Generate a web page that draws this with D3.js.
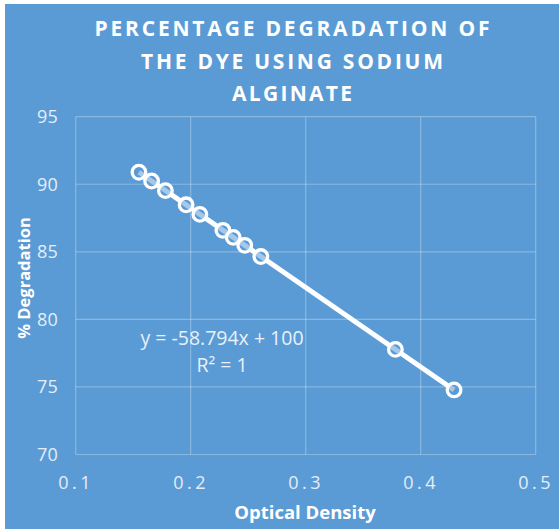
<!DOCTYPE html>
<html>
<head>
<meta charset="utf-8">
<script src="https://cdn.jsdelivr.net/npm/d3@7"></script>
<style>
  html, body { margin: 0; padding: 0; background: #ffffff; }
  svg { display: block; }
</style>
</head>
<body>
<svg id="chart" width="559" height="529"></svg>
<script>
// ---- data ----
const titleLines = ["PERCENTAGE DEGRADATION OF", "THE DYE USING SODIUM", "ALGINATE"];
const opticalDensity = [0.155, 0.166, 0.178, 0.196, 0.208, 0.228, 0.237, 0.247, 0.261, 0.378, 0.429];
const degradation = [90.89, 90.24, 89.53, 88.48, 87.77, 86.59, 86.07, 85.48, 84.65, 77.78, 74.78];
const xTicks = [0.1, 0.2, 0.3, 0.4, 0.5];
const yTicks = [70, 75, 80, 85, 90, 95];
const trendSlope = -58.794;
const trendIntercept = 100;
const equationLines = ["y = -58.794x + 100", "R² = 1"];
const xTitle = "Optical Density";
const yTitle = "% Degradation";

// ---- layout ----
const W = 559, H = 529;
const bg = "#5B9BD5";
const plot = { left: 75.7, right: 535.7, top: 116.7, bottom: 454.5 };

const svg = d3.select("#chart");
svg.append("rect").attr("x", 5).attr("y", 4).attr("width", W - 5).attr("height", H - 4).attr("fill", bg);

const x = d3.scaleLinear().domain([0.1, 0.5]).range([plot.left, plot.right]);
const y = d3.scaleLinear().domain([70, 95]).range([plot.bottom, plot.top]);

// gridlines
const grid = svg.append("g").attr("stroke", "rgba(255,255,255,0.28)").attr("stroke-width", 1.2);
grid.selectAll("line.v").data(xTicks).join("line")
  .attr("x1", d => x(d)).attr("x2", d => x(d))
  .attr("y1", plot.top).attr("y2", plot.bottom);
grid.selectAll("line.h").data(yTicks).join("line")
  .attr("y1", d => y(d)).attr("y2", d => y(d))
  .attr("x1", plot.left).attr("x2", plot.right);

// axes via d3 axis generators (styled as text only)
const labelColor = "#e4edf8";
const xAxis = svg.append("g").attr("transform", `translate(0,${plot.bottom})`)
  .call(d3.axisBottom(x).tickValues(xTicks).tickFormat(d3.format(".1f")).tickSize(0).tickPadding(22));
xAxis.select(".domain").remove();
xAxis.selectAll("text").attr("fill", labelColor).style("font-family", "'Open Sans', sans-serif")
  .style("font-size", "18px").style("letter-spacing", "3.5px");

const yAxis = svg.append("g").attr("transform", `translate(${plot.left},0)`)
  .call(d3.axisLeft(y).tickValues(yTicks).tickSize(0).tickPadding(18));
yAxis.select(".domain").remove();
yAxis.selectAll("text").attr("fill", labelColor).style("font-family", "'Open Sans', sans-serif")
  .style("font-size", "18px");

// trendline
const xMin = d3.min(opticalDensity), xMax = d3.max(opticalDensity);
svg.append("line")
  .attr("x1", x(xMin)).attr("y1", y(trendIntercept + trendSlope * xMin))
  .attr("x2", x(xMax)).attr("y2", y(trendIntercept + trendSlope * xMax))
  .attr("stroke", "#ffffff").attr("stroke-width", 5);

// markers
const pts = opticalDensity.map((d, i) => ({ x: d, y: degradation[i] }));
svg.append("g").selectAll("circle").data(pts).join("circle")
  .attr("cx", d => x(d.x)).attr("cy", d => y(d.y)).attr("r", 6.8)
  .attr("fill", bg).attr("fill-opacity", 0.55)
  .attr("stroke", "#ffffff").attr("stroke-width", 3.3);

// title
const title = svg.append("g");
const titleWidths = [395, 302, 120];
titleLines.forEach((t, i) => {
  title.append("text")
    .attr("x", 292).attr("y", 36 + i * 32.5)
    .attr("text-anchor", "middle")
    .attr("fill", "#ffffff")
    .style("font-family", "'Open Sans', sans-serif")
    .style("font-weight", "bold").style("font-size", "21px")
    .attr("textLength", titleWidths[i]).attr("lengthAdjust", "spacing")
    .text(t);
});

// equation
equationLines.forEach((t, i) => {
  svg.append("text")
    .attr("x", 222).attr("y", 345 + i * 27)
    .attr("text-anchor", "middle")
    .attr("fill", "#e8f0f9")
    .style("font-family", "'Open Sans', sans-serif")
    .style("font-size", "19.5px")
    .text(t);
});

// axis titles
svg.append("text")
  .attr("x", 305).attr("y", 519)
  .attr("text-anchor", "middle").attr("fill", "#ffffff")
  .style("font-family", "'Open Sans', sans-serif").style("font-weight", "bold").style("font-size", "18.5px")
  .text(xTitle);

svg.append("text")
  .attr("transform", `translate(30,278) rotate(-90)`)
  .attr("text-anchor", "middle").attr("fill", "#ffffff")
  .style("font-family", "'Open Sans', sans-serif").style("font-weight", "bold").style("font-size", "16.5px")
  .text(yTitle);
</script>
</body>
</html>
